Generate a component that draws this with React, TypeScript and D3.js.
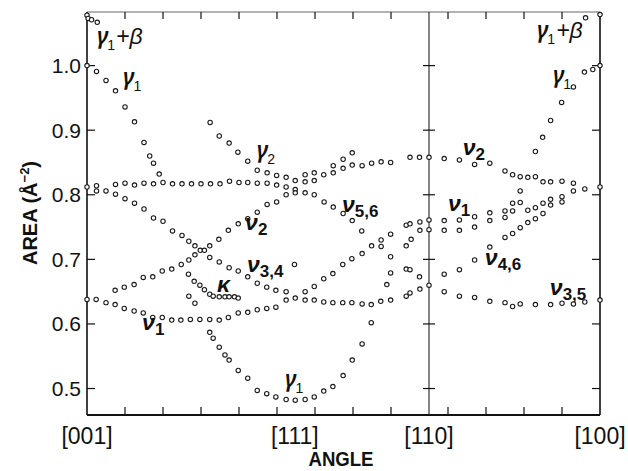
import React from "react";
import * as d3 from "d3";

// angle (deg from [001] along the zone path) and area (A^-2)
const gammaBeta = [[0, 1.078], [0.3, 1.073], [1.2, 1.071], [2.7, 1.067], [131.2, 1.074], [135, 1.079]];
const gamma1Left = [[0, 1.0], [2.5, 0.991], [5, 0.977], [7.5, 0.961], [10, 0.936], [12.5, 0.913], [15, 0.881], [16.5, 0.86], [17.5, 0.849], [19, 0.832]];
const band = [[0, 0.812], [2.5, 0.814], [7.5, 0.816], [10, 0.818], [12.5, 0.815], [15, 0.818], [17.5, 0.817], [20, 0.819], [22.5, 0.817], [25, 0.817], [27.5, 0.817], [30, 0.817], [32.5, 0.817], [35, 0.817], [37.5, 0.821], [40, 0.819], [42.3, 0.819], [44.8, 0.818], [47.4, 0.818], [49.9, 0.815], [52.4, 0.812], [54.8, 0.808]];
const gamma2 = [[32.4, 0.912], [34.8, 0.891], [37.4, 0.88], [39.7, 0.866], [42.3, 0.852], [44.8, 0.838], [47.4, 0.834], [49.9, 0.83], [52.4, 0.827], [54.8, 0.822]];
const gamma2Mirror = [[57.4, 0.831], [59.8, 0.834], [64.8, 0.845], [67.4, 0.855], [69.8, 0.865]];
const nu2Mid = [[57.4, 0.82], [59.8, 0.822], [62.3, 0.831], [64.8, 0.834], [67.4, 0.841], [69.8, 0.846], [72.4, 0.845], [74.9, 0.849], [77.4, 0.851], [79.9, 0.85], [85, 0.858], [87.5, 0.858], [90, 0.858]];
const nu56 = [[57.4, 0.803], [59.8, 0.8], [62.4, 0.789], [64.8, 0.781], [67.4, 0.771], [69.8, 0.76], [72.3, 0.744], [77.4, 0.72], [79.9, 0.704], [84, 0.685], [85, 0.684], [87.5, 0.673]];
const descLine = [[2.5, 0.806], [5, 0.806], [7.5, 0.801], [10, 0.794], [12.5, 0.787], [15, 0.778], [17.5, 0.764], [20, 0.759], [22.5, 0.744], [25, 0.737], [26.8, 0.728], [28.4, 0.721], [29.8, 0.714], [32.3, 0.703], [34.8, 0.696], [37.4, 0.687], [39.8, 0.682], [42.3, 0.673], [44.8, 0.663], [47.3, 0.657], [49.7, 0.652], [52.4, 0.65]];
const riseLine = [[7.4, 0.652], [9.8, 0.657], [12.4, 0.661], [14.8, 0.672], [17.3, 0.673], [19.8, 0.682], [22.3, 0.685], [24.8, 0.692], [26.8, 0.699], [28.4, 0.707], [30.9, 0.714], [32.3, 0.721], [34.7, 0.731], [37.2, 0.745], [39.8, 0.755], [42.3, 0.763], [44.8, 0.773], [47.4, 0.785], [49.9, 0.789], [52.4, 0.8], [54.8, 0.803]];
const nu1Left = [[0, 0.638], [2.4, 0.638], [5, 0.633], [7.4, 0.63], [9.8, 0.624], [12.4, 0.62], [14.8, 0.617], [17.3, 0.61], [19.8, 0.61], [22.3, 0.606], [24.7, 0.606], [27.2, 0.607], [29.7, 0.607], [32.3, 0.607], [34.8, 0.606], [37.2, 0.61], [39.8, 0.617], [42.3, 0.618], [44.8, 0.622], [47.3, 0.624], [49.7, 0.626], [52.4, 0.637], [54.8, 0.64]];
const bottomRow = [[57.4, 0.637], [59.8, 0.637], [62.3, 0.634], [64.7, 0.633], [67.3, 0.633], [69.7, 0.633], [72.4, 0.631], [74.8, 0.63], [77.3, 0.635], [79.9, 0.637], [84, 0.643], [85, 0.648], [87.6, 0.654], [90, 0.66]];
const nu2Mirror = [[57.4, 0.65], [59.8, 0.658], [62.3, 0.67], [64.7, 0.678], [67.3, 0.692], [69.7, 0.701], [72.4, 0.709], [74.9, 0.721], [77.4, 0.73], [79.9, 0.739], [84, 0.753], [85, 0.755], [87.6, 0.758], [90, 0.761]];
const extraMid = [[84, 0.721], [85.3, 0.731], [87.6, 0.745], [90, 0.746], [79.9, 0.679], [78.9, 0.661], [54.6, 0.692]];
const kappa = [[26.7, 0.677], [28.2, 0.666], [29.7, 0.66], [30.9, 0.653], [32.3, 0.646], [33.2, 0.643], [34.8, 0.642], [36.3, 0.642], [37.4, 0.642], [38.8, 0.642], [39.8, 0.64], [26.8, 0.643], [28.4, 0.632]];
const gamma1Trough = [[32.3, 0.587], [33.2, 0.578], [34.8, 0.564], [36.3, 0.552], [37.4, 0.544], [39.8, 0.528], [42.3, 0.516], [44.8, 0.497], [47.3, 0.492], [49.7, 0.487], [52.4, 0.483], [54.8, 0.482], [57.4, 0.483], [59.8, 0.487], [62.3, 0.496], [64.7, 0.503], [67.4, 0.52], [69.8, 0.544], [72.4, 0.569], [74.8, 0.602]];
const nu2Right = [[94, 0.856], [98, 0.854], [102, 0.847], [106, 0.849], [110, 0.837], [112, 0.831], [114, 0.828], [116, 0.827], [118, 0.828], [120, 0.82], [122, 0.82], [125, 0.821], [128, 0.818], [131, 0.809], [135, 0.812]];
const gamma1Right = [[118, 0.867], [119.9, 0.889], [122, 0.915], [124.9, 0.943], [128, 0.967], [130.9, 0.99], [133.1, 0.994], [135, 1.0]];
const nu1RightA = [[94, 0.76], [98, 0.761], [102, 0.766], [106, 0.772], [110, 0.775], [112, 0.787], [114, 0.806]];
const nu1RightB = [[94, 0.745], [98, 0.745], [102, 0.75], [106, 0.76], [110, 0.765], [112, 0.775], [114, 0.788], [116, 0.776], [118, 0.78], [120, 0.787], [122, 0.793], [125, 0.797], [128, 0.806]];
const nu46 = [[94, 0.677], [98, 0.684], [102, 0.699], [106, 0.719], [110, 0.734], [112, 0.74], [114, 0.749], [116, 0.757], [118, 0.763], [120, 0.771], [122, 0.784], [125, 0.789]];
const nu35 = [[94, 0.65], [98, 0.643], [102, 0.641], [106, 0.635], [110, 0.633], [112, 0.627], [114, 0.631], [118, 0.63], [122, 0.63], [125, 0.632], [128, 0.631], [131, 0.634], [135, 0.637]];

const branches = [gammaBeta, gamma1Left, band, gamma2, gamma2Mirror, nu2Mid, nu56, descLine, riseLine, nu1Left, bottomRow, nu2Mirror, extraMid, kappa, gamma1Trough, nu2Right, gamma1Right, nu1RightA, nu1RightB, nu46, nu35];

const yTicks = [0.5, 0.6, 0.7, 0.8, 0.9, 1.0];
const xTicks = [10, 20, 30, 40, 50, 60, 70, 80, 95, 105, 115, 125];
const directions = [
  { label: "[001]", angle: 0 },
  { label: "[111]", angle: 54.7 },
  { label: "[110]", angle: 90 },
  { label: "[100]", angle: 135 },
];
const crossAngle = 90;

// curve names: main glyph, subscript, tail
const curveLabels = [
  { main: "γ", sub: "1", tail: "+β", angle: 2.6, area: 1.034, nu: false },
  { main: "γ", sub: "1", tail: "", angle: 9.5, area: 0.97, nu: false },
  { main: "γ", sub: "2", tail: "", angle: 44.7, area: 0.857, nu: false },
  { main: "ν", sub: "2", tail: "", angle: 41.6, area: 0.745, nu: true },
  { main: "ν", sub: "3,4", tail: "", angle: 42.1, area: 0.68, nu: true },
  { main: "κ", sub: "", tail: "", angle: 34.2, area: 0.649, nu: true },
  { main: "ν", sub: "1", tail: "", angle: 14.5, area: 0.59, nu: true },
  { main: "γ", sub: "1", tail: "", angle: 52.1, area: 0.502, nu: false },
  { main: "ν", sub: "5,6", tail: "", angle: 67.1, area: 0.773, nu: true },
  { main: "ν", sub: "2", tail: "", angle: 98.9, area: 0.862, nu: true },
  { main: "ν", sub: "1", tail: "", angle: 95, area: 0.775, nu: true },
  { main: "ν", sub: "4,6", tail: "", angle: 104.7, area: 0.691, nu: true },
  { main: "ν", sub: "3,5", tail: "", angle: 121.8, area: 0.645, nu: true },
  { main: "γ", sub: "1", tail: "+β", angle: 118.4, area: 1.043, nu: false },
  { main: "γ", sub: "1", tail: "", angle: 122.6, area: 0.973, nu: false },
];

const FONT = "'Liberation Sans', 'DejaVu Sans', sans-serif";
const GREEK = "'Noto Sans', 'DejaVu Sans', sans-serif";

export default function App() {
  const x = d3.scaleLinear().domain([0, 135]).range([87, 600]);
  const y = d3.scaleLinear().domain([0.459, 1.083]).range([415, 12]);
  const [x0, x1] = x.range();
  const [yb, yt] = y.range();
  const points = branches.flat();

  return (
    <svg
      width={628}
      height={471}
      style={{ position: "absolute", left: 0, top: 0, background: "#fff" }}
      fontFamily={FONT}
    >
      <rect width={628} height={471} fill="#fff" />
      {/* frame */}
      <line x1={x0} x2={x1} y1={yt} y2={yt} stroke="#666" strokeWidth={1} />
      <line x1={x0} x2={x0} y1={yt} y2={yb} stroke="#111" strokeWidth={1.6} />
      <line x1={x1} x2={x1} y1={yt} y2={yb} stroke="#111" strokeWidth={1.6} />
      <line x1={x0} x2={x1} y1={yb} y2={yb} stroke="#111" strokeWidth={1.8} />
      <line x1={x(crossAngle)} x2={x(crossAngle)} y1={yt} y2={yb} stroke="#222" strokeWidth={1.1} />

      {/* y ticks */}
      {yTicks.map((t) => (
        <g key={"y" + t}>
          <line x1={x0} x2={x0 + 8} y1={y(t)} y2={y(t)} stroke="#111" strokeWidth={1.2} />
          <line x1={x1 - 8} x2={x1} y1={y(t)} y2={y(t)} stroke="#111" strokeWidth={1.2} />
          <line x1={x(crossAngle) - 6} x2={x(crossAngle) + 6} y1={y(t)} y2={y(t)} stroke="#111" strokeWidth={1.2} />
          <text x={x0 - 6} y={y(t)} dy="0.36em" textAnchor="end" fontSize={21} fill="#111">
            {t.toFixed(1)}
          </text>
        </g>
      ))}

      {/* x ticks */}
      {xTicks.map((t) => (
        <g key={"x" + t}>
          <line x1={x(t)} x2={x(t)} y1={yb} y2={yb - 8} stroke="#111" strokeWidth={1.2} />
          <line x1={x(t)} x2={x(t)} y1={yt} y2={yt + 7} stroke="#111" strokeWidth={1.2} />
        </g>
      ))}
      {directions.map((d) => (
        <text key={d.label} x={x(d.angle)} y={444} textAnchor="middle" fontSize={23} fill="#111">
          {d.label}
        </text>
      ))}

      <text x={341} y={466} textAnchor="middle" fontSize={20} fontWeight="bold" fill="#111" textLength={65} lengthAdjust="spacingAndGlyphs">
        ANGLE
      </text>
      <text transform="translate(37,213) rotate(-90)" textAnchor="middle" fontSize={20} fontWeight="bold" fill="#111">
        AREA (Å<tspan dy={-8} fontSize={13}>−2</tspan>
        <tspan dy={8} fontSize={20}>)</tspan>
      </text>

      {/* data points */}
      {points.map((p, i) => (
        <circle key={i} cx={x(p[0])} cy={y(p[1])} r={2.2} fill="#fff" stroke="#1a1a1a" strokeWidth={1.1} />
      ))}

      {/* curve names */}
      {curveLabels.map((l, i) => (
        <text
          key={"c" + i}
          x={x(l.angle)}
          y={y(l.area)}
          fontSize={l.nu ? 23 : 23}
          fontWeight={l.nu ? "bold" : 600}
          fontStyle="italic"
          fontFamily={l.nu ? FONT : GREEK}
          fill="#111"
        >
          {l.main}
          {l.sub && (
            <tspan
              dy={l.nu ? 5 : 6}
              dx={l.nu ? 0 : -1}
              fontSize={l.nu ? 17 : 14}
              fontStyle="normal"
              fontWeight={l.nu ? "bold" : "normal"}
              fontFamily={FONT}
            >
              {l.sub}
            </tspan>
          )}
          {l.tail && (
            <tspan dy={-6} dx={1} fontSize={23} fontWeight="normal" fontFamily={FONT}>
              {l.tail}
            </tspan>
          )}
        </text>
      ))}
    </svg>
  );
}
